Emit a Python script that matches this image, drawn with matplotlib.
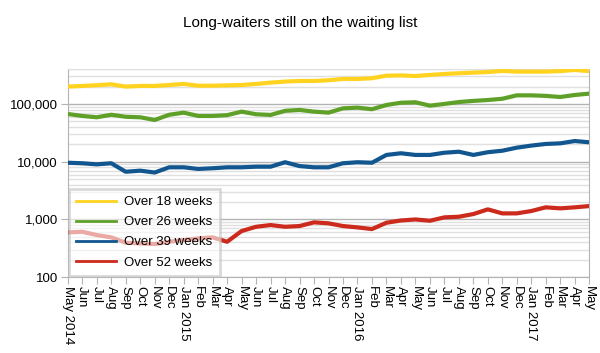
import matplotlib
matplotlib.use("Agg")
import matplotlib.pyplot as plt
from matplotlib.ticker import FixedLocator, FuncFormatter, NullFormatter
import numpy as np

plt.rcParams['font.family'] = ['Liberation Sans', 'DejaVu Sans']

months = ["May 2014", "Jun", "Jul", "Aug", "Sep", "Oct", "Nov", "Dec", "Jan 2015", "Feb", "Mar", "Apr",
          "May", "Jun", "Jul", "Aug", "Sep", "Oct", "Nov", "Dec", "Jan 2016", "Feb", "Mar", "Apr",
          "May", "Jun", "Jul", "Aug", "Sep", "Oct", "Nov", "Dec", "Jan 2017", "Feb", "Mar", "Apr", "May"]

over18 = [200000, 205000, 211000, 219000, 200000, 205000, 205000, 213000, 222000, 207000, 207000, 210000,
          213000, 222000, 234000, 244000, 250000, 250000, 257000, 271000, 271000, 279000, 309000, 312000,
          305000, 318000, 331000, 340000, 349000, 357000, 373000, 363000, 363000, 363000, 370000, 388000, 370000]
over26 = [67000, 62000, 58800, 65000, 60000, 58800, 52800, 65000, 70700, 62000, 62000, 64000,
          73600, 66300, 64500, 76000, 78700, 73600, 70700, 84000, 86300, 81000, 96000, 105000,
          107000, 93500, 100000, 108000, 113000, 117000, 123000, 141000, 141000, 138000, 132000, 143000, 151000]
over39 = [9600, 9400, 9000, 9400, 6700, 7000, 6500, 8000, 8000, 7500, 7700, 8000,
          8000, 8200, 8200, 9800, 8400, 8000, 8000, 9400, 9800, 9600, 13100, 14000,
          13100, 13100, 14300, 14900, 13100, 14600, 15500, 17500, 19000, 20300, 20800, 22800, 21700]
over52 = [597, 612, 537, 490, 395, 385, 375, 411, 440, 470, 490, 411,
          630, 747, 800, 747, 769, 891, 857, 769, 729, 682, 877, 960,
          1000, 950, 1087, 1114, 1240, 1495, 1274, 1274, 1400, 1622, 1557, 1622, 1706]

series = [("Over 18 weeks", over18, "#ffd320"),
          ("Over 26 weeks", over26, "#5fa128"),
          ("Over 39 weeks", over39, "#11568f"),
          ("Over 52 weeks", over52, "#cc2a1c")]

fig = plt.figure(figsize=(6, 3.53), dpi=100)
ax = fig.add_axes([0.113, 0.2147, 0.869, 0.5893])

x = np.arange(len(months))
for name, vals, col in series:
    ax.plot(x, vals, color=col, lw=3, label=name, solid_joinstyle='round', zorder=3)

ax.set_yscale('log')
ax.set_ylim(100, 400000)
ax.set_xlim(0, len(months) - 1)

major = [100, 1000, 10000, 100000]
ax.yaxis.set_major_locator(FixedLocator(major))
ax.yaxis.set_major_formatter(FuncFormatter(lambda v, p: f"{int(round(v)):,}"))
minor = [m * 10 ** k for k in range(2, 6) for m in range(2, 10) if m * 10 ** k <= 400000]
ax.yaxis.set_minor_locator(FixedLocator(minor))
ax.yaxis.set_minor_formatter(NullFormatter())

ax.grid(True, which='major', axis='y', color='#b3b3b3', lw=1, zorder=0)
ax.grid(True, which='minor', axis='y', color='#e0e0e0', lw=1, zorder=0)

ax.set_xticks(x)
ax.set_xticklabels(months, rotation=-90, fontsize=9.5, va='top', ha='center')
ax.tick_params(axis='x', length=5, color='#b3b3b3', pad=1)
ax.tick_params(axis='y', which='major', length=5, color='#b3b3b3', labelsize=9.5, pad=2)
ax.tick_params(axis='y', which='minor', length=0)

for s in ['left', 'bottom', 'right']:
    ax.spines[s].set_color('#b3b3b3')
ax.spines['top'].set_color('#e0e0e0')

leg = ax.legend(loc='lower left', bbox_to_anchor=(0, 0), borderaxespad=0.1, fontsize=9.5,
                frameon=True, fancybox=False, framealpha=0.6, edgecolor='#c0c0c0',
                handlelength=3.0, handletextpad=0.6, labelspacing=0.6, borderpad=0.55)
leg.get_frame().set_linewidth(2)
for line in leg.get_lines():
    line.set_linewidth(2)
leg.set_zorder(5)

fig.text(0.5, 0.935, "Long-waiters still on the waiting list", ha='center', va='center', fontsize=11)

fig.savefig("out.png", dpi=100)
